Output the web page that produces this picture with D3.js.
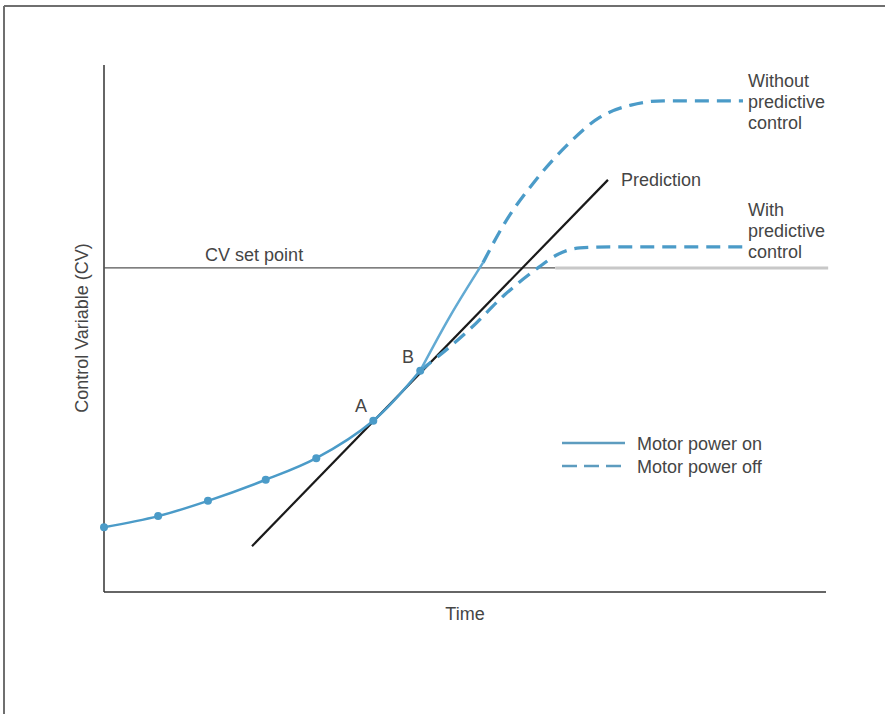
<!DOCTYPE html>
<html>
<head>
<meta charset="utf-8">
<script src="https://cdn.jsdelivr.net/npm/d3@7"></script>
<style>
  body { margin: 0; background: #fff; }
  svg { display: block; font-family: "Liberation Sans", Arial, sans-serif; }
</style>
</head>
<body>
<svg width="885" height="714"></svg>
<script>
var svg = d3.select('svg');

// data, in time / CV units (0..100)
var samples = [ [0, 12.3], [7.5, 14.4], [14.4, 17.3], [22.4, 21.3], [29.4, 25.4], [37.3, 32.5], [43.8, 42.0] ];
var prediction = [ [20.5, 8.7], [69.8, 78.2] ];
var withoutOn = [ [43.8, 42.0], [48.0, 52.5], [52.5, 62.5] ];
var withoutOff = [ [52.5, 62.5], [55.5, 70.0], [59.7, 78.0], [64.0, 84.6], [68.7, 90.1], [73.0, 92.4], [77.5, 93.2], [88.5, 93.2] ];
var withOff = [ [43.8, 42.0], [50.7, 49.9], [55.5, 56.4], [60.1, 61.5], [62.9, 64.1], [65.9, 65.3], [70.1, 65.5], [88.5, 65.5] ];
var setPoint = 61.5;
var setPointSplit = 62.5;
var pointLabels = [ {name: 'A', t: 35.6, cv: 34.2}, {name: 'B', t: 42.1, cv: 43.5} ];
var curveLabels = [
  {lines: ['Without', 'predictive', 'control'], t: 89.2, cv: 95.8},
  {lines: ['With', 'predictive', 'control'], t: 89.2, cv: 71.3}
];
var legendItems = [ {name: 'Motor power on', dashed: false}, {name: 'Motor power off', dashed: true} ];

var x = d3.scaleLinear().domain([0, 100]).range([104, 826]);
var y = d3.scaleLinear().domain([0, 100]).range([592, 65]);

var blue = '#4b9bc8';
var lightBlue = '#62aad3';
var textColor = '#454545';
var fs = 18;

// frame
svg.append('line').attr('x1', 4).attr('y1', 6).attr('x2', 885).attr('y2', 6)
  .attr('stroke', '#6f6f6f').attr('stroke-width', 2);
svg.append('line').attr('x1', 4).attr('y1', 6).attr('x2', 4).attr('y2', 714)
  .attr('stroke', '#6f6f6f').attr('stroke-width', 2);

// axes
svg.append('line').attr('x1', x(0)).attr('y1', y(0)).attr('x2', x(0)).attr('y2', y(100))
  .attr('stroke', '#333').attr('stroke-width', 1.5);
svg.append('line').attr('x1', x(0)).attr('y1', y(0)).attr('x2', x(100)).attr('y2', y(0))
  .attr('stroke', '#333').attr('stroke-width', 1.5);

// set point
svg.append('line').attr('x1', x(0)).attr('x2', x(setPointSplit))
  .attr('y1', y(setPoint)).attr('y2', y(setPoint))
  .attr('stroke', '#555').attr('stroke-width', 1.2);
svg.append('line').attr('x1', x(setPointSplit)).attr('x2', x(100.3))
  .attr('y1', y(setPoint)).attr('y2', y(setPoint))
  .attr('stroke', '#c8c8c8').attr('stroke-width', 3);
svg.append('text').attr('x', x(14)).attr('y', y(setPoint) - 7)
  .attr('font-size', fs).attr('fill', textColor).text('CV set point');

var line = d3.line().x(function(d){ return x(d[0]); }).y(function(d){ return y(d[1]); })
  .curve(d3.curveMonotoneX);
var smooth = d3.line().x(function(d){ return x(d[0]); }).y(function(d){ return y(d[1]); })
  .curve(d3.curveCatmullRom);

// prediction
svg.append('line')
  .attr('x1', x(prediction[0][0])).attr('y1', y(prediction[0][1]))
  .attr('x2', x(prediction[1][0])).attr('y2', y(prediction[1][1]))
  .attr('stroke', '#1a1a1a').attr('stroke-width', 2.2);
svg.append('text').attr('x', x(prediction[1][0]) + 13).attr('y', y(prediction[1][1]) + 6)
  .attr('font-size', fs).attr('fill', textColor).text('Prediction');

// curves
svg.append('path').datum(withOff).attr('d', line).attr('fill', 'none')
  .attr('stroke', blue).attr('stroke-width', 3.3).attr('stroke-dasharray', '14,8');
svg.append('path').datum(withoutOff).attr('d', line).attr('fill', 'none')
  .attr('stroke', blue).attr('stroke-width', 3.3).attr('stroke-dasharray', '14,8');
svg.append('path').datum(withoutOn).attr('d', smooth)
  .attr('fill', 'none').attr('stroke', lightBlue).attr('stroke-width', 2.5);
svg.append('path').datum(samples).attr('d', smooth)
  .attr('fill', 'none').attr('stroke', blue).attr('stroke-width', 2.5);

svg.selectAll('circle.sample')
  .data(samples)
  .enter()
  .append('circle')
  .attr('class', 'sample')
  .attr('cx', function(d){ return x(d[0]); })
  .attr('cy', function(d){ return y(d[1]); })
  .attr('r', 4)
  .attr('fill', blue);

svg.selectAll('text.pt')
  .data(pointLabels)
  .enter()
  .append('text')
  .attr('class', 'pt')
  .attr('x', function(d){ return x(d.t); })
  .attr('y', function(d){ return y(d.cv); })
  .attr('text-anchor', 'middle')
  .attr('font-size', fs).attr('fill', textColor)
  .text(function(d){ return d.name; });

curveLabels.forEach(function(c){
  var t = svg.append('text').attr('x', x(c.t)).attr('y', y(c.cv))
    .attr('font-size', fs).attr('fill', textColor);
  c.lines.forEach(function(s, i){
    t.append('tspan').attr('x', x(c.t)).attr('dy', i === 0 ? 0 : 21).text(s);
  });
});

// legend
var legend = svg.append('g').attr('transform', 'translate(562,443)');
legendItems.forEach(function(d, i){
  legend.append('line').attr('x1', 0).attr('x2', 63).attr('y1', i * 23).attr('y2', i * 23)
    .attr('stroke', '#5d9cbf').attr('stroke-width', 2.5)
    .attr('stroke-dasharray', d.dashed ? '15,7' : null);
  legend.append('text').attr('x', 75).attr('y', i * 23 + 6.5)
    .attr('font-size', fs).attr('fill', textColor).text(d.name);
});

// axis titles
svg.append('text').attr('x', x(50)).attr('y', 620).attr('text-anchor', 'middle')
  .attr('font-size', fs).attr('fill', textColor).text('Time');
svg.append('text').attr('transform', 'translate(88,' + 328 + ') rotate(-90)')
  .attr('text-anchor', 'middle').attr('font-size', fs).attr('fill', textColor)
  .text('Control Variable (CV)');
</script>
</body>
</html>
